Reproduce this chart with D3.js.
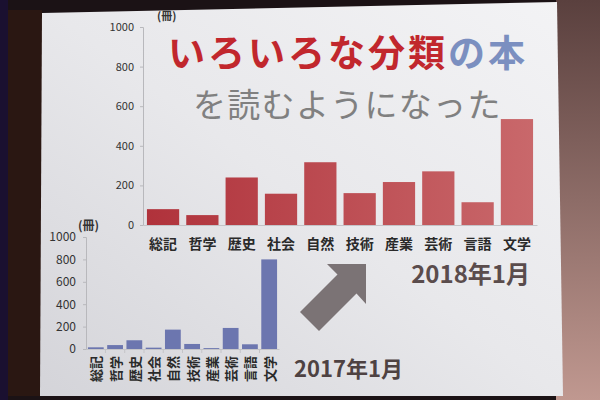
<!DOCTYPE html>
<html><head><meta charset="utf-8">
<script src="https://cdn.jsdelivr.net/npm/d3@7"></script>
<style>html,body{margin:0;padding:0;background:#1a1218;}svg{display:block;}</style>
</head><body>
<script>
const categories = ["総記","哲学","歴史","社会","自然","技術","産業","芸術","言語","文学"];
const values2018 = [80,50,240,158,317,161,217,271,115,535];
const values2017 = [15,35,78,12,173,45,8,188,42,800];
const yTicks = [0,200,400,600,800,1000];
const titleRed = "いろいろな分類";
const titleBlue = "の本";
const subtitle = "を読むようになった";
const label2018 = "2018年1月";
const label2017 = "2017年1月";
const unitLabel = "(冊)";

const W = 600, H = 400;
const font = "'Noto Sans CJK JP','Noto Sans',sans-serif";
const svg = d3.select("body").append("svg").attr("width", W).attr("height", H);
const defs = svg.append("defs");

const bgR = defs.append("linearGradient").attr("id","bgR").attr("x1",0).attr("y1",0).attr("x2",0).attr("y2",1);
bgR.append("stop").attr("offset",0).attr("stop-color","#5a403e");
bgR.append("stop").attr("offset",1).attr("stop-color","#c09890");
const slideG = defs.append("linearGradient").attr("id","slideG").attr("x1",0).attr("y1",1).attr("x2",1).attr("y2",0);
slideG.append("stop").attr("offset",0).attr("stop-color","#d4d4d9");
slideG.append("stop").attr("offset",0.5).attr("stop-color","#e8e8eb");
slideG.append("stop").attr("offset",1).attr("stop-color","#f3f3f5");
const redG = defs.append("linearGradient").attr("id","redG").attr("gradientUnits","userSpaceOnUse")
  .attr("x1",147).attr("y1",0).attr("x2",533).attr("y2",0);
redG.append("stop").attr("offset",0).attr("stop-color","#b0323b");
redG.append("stop").attr("offset",1).attr("stop-color","#c9686b");

svg.append("rect").attr("width",W).attr("height",H).attr("fill","#1b1215");
svg.append("rect").attr("x",0).attr("y",0).attr("width",8).attr("height",H).attr("fill","#1a1030");
svg.append("rect").attr("x",8).attr("y",10).attr("width",34).attr("height",386).attr("fill","#2a1712");
svg.append("rect").attr("x",556).attr("y",0).attr("width",44).attr("height",H).attr("fill","url(#bgR)");
svg.append("polygon").attr("points","42,13 557,2 563,396 40,396").attr("fill","url(#slideG)");

// ---------- Top chart (2018) ----------
const x1 = d3.scaleBand().domain(categories).range([143,537]).paddingInner(0.18).paddingOuter(0.1);
const y1 = d3.scaleLinear().domain([0,1000]).range([225,27]);
const gTop = svg.append("g");
gTop.selectAll("rect.bar").data(categories).join("rect")
  .attr("x", d => x1(d)).attr("width", x1.bandwidth())
  .attr("y", (d,i) => y1(values2018[i])).attr("height", (d,i) => y1(0) - y1(values2018[i]))
  .attr("fill","url(#redG)");
const ay1 = gTop.append("g").attr("transform","translate(143,0)")
  .call(d3.axisLeft(y1).tickValues(yTicks).tickFormat(d3.format("d")).tickSize(3).tickPadding(6));
ay1.selectAll("path,line").attr("stroke","#b8b8bc");
ay1.selectAll("text").attr("font-family",font).attr("font-size",11).attr("fill","#333");
const ax1 = gTop.append("g").attr("transform","translate(0,225)")
  .call(d3.axisBottom(x1).tickSize(0).tickPadding(0));
ax1.select("path").attr("stroke","#c4c4c8");
ax1.selectAll("text").attr("font-family",font).attr("font-size",14).attr("font-weight","bold")
  .attr("fill","#2a2a2a").attr("dy","0").attr("y",24);
gTop.append("text").attr("x",157).attr("y",20).attr("font-family",font).attr("font-size",11)
  .attr("font-weight","bold").attr("fill","#333").text(unitLabel);

// title
const t1 = svg.append("text").attr("x",168).attr("y",67).attr("font-family",font)
  .attr("font-size",37).attr("font-weight","bold").attr("letter-spacing",3);
t1.append("tspan").attr("fill","#c1272d").text(titleRed);
t1.append("tspan").attr("fill","#7b8fc0").text(titleBlue);
svg.append("text").attr("x",193).attr("y",117).attr("font-family",font).attr("font-size",33)
  .attr("letter-spacing",1.3).attr("fill","#808080").text(subtitle);

// ---------- Bottom chart (2017) ----------
const x2 = d3.scaleBand().domain(categories).range([86,279]).paddingInner(0.18).paddingOuter(0.1);
const y2 = d3.scaleLinear().domain([0,1000]).range([349,237]);
const gBot = svg.append("g");
gBot.selectAll("rect.bar").data(categories).join("rect")
  .attr("x", d => x2(d)).attr("width", x2.bandwidth())
  .attr("y", (d,i) => y2(values2017[i])).attr("height", (d,i) => y2(0) - y2(values2017[i]))
  .attr("fill","#6c76af");
const ay2 = gBot.append("g").attr("transform","translate(86,0)")
  .call(d3.axisLeft(y2).tickValues(yTicks).tickFormat(d3.format("d")).tickSize(3).tickPadding(7));
ay2.selectAll("path,line").attr("stroke","#b8b8bc");
ay2.selectAll("text").attr("font-family",font).attr("font-size",12).attr("fill","#333");
const ax2 = gBot.append("g").attr("transform","translate(0,349)")
  .call(d3.axisBottom(x2).tickSize(0).tickPadding(0));
ax2.select("path").attr("stroke","#c4c4c8");
ax2.selectAll("text").remove();
gBot.selectAll("line.sep").data(categories.slice(1)).join("line")
  .attr("x1", d => x2(d) - x2.step()*x2.paddingInner()/2).attr("x2", d => x2(d) - x2.step()*x2.paddingInner()/2)
  .attr("y1",349).attr("y2",353).attr("stroke","#c4c4c8");
gBot.selectAll("text.cat").data(categories).join("text")
  .attr("transform", d => `translate(${x2(d)+x2.bandwidth()/2},356) rotate(-90)`)
  .attr("text-anchor","end").attr("dominant-baseline","central")
  .attr("font-family",font).attr("font-size",13).attr("font-weight","bold").attr("fill","#2a2a2a")
  .text(d => d);
gBot.append("text").attr("x",78).attr("y",230).attr("font-family",font).attr("font-size",12)
  .attr("font-weight","bold").attr("fill","#333").text(unitLabel);

// arrow
svg.append("path").attr("d","M366,264 L366,304 L356.5,293.5 L319,331 L300,312 L337.5,274.5 L327,264 Z")
  .attr("fill","#7b7375");

svg.append("text").attr("x",530).attr("y",283).attr("text-anchor","end").attr("font-family",font)
  .attr("font-size",24).attr("font-weight","bold").attr("fill","#5a4c4c").text(label2018);
svg.append("text").attr("x",294).attr("y",377).attr("font-family",font)
  .attr("font-size",22).attr("font-weight","bold").attr("fill","#4e4242").text(label2017);
</script>
</body></html>
